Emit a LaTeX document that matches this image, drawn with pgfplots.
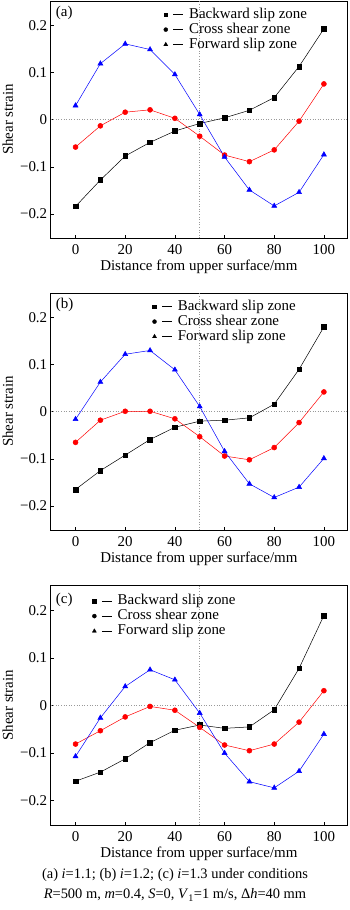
\documentclass[border=0pt]{standalone}
\usepackage{fontspec}
\setmainfont{Liberation Serif}
\usepackage{pgfplots}
\pgfplotsset{compat=1.18}
\pgfplotsset{
  panel/.style={
    scale only axis, width=296.3bp, height=237bp,
    xmin=-10, xmax=109.3, ymin=-0.251, ymax=0.252,
    xtick={0,20,40,60,80,100}, xticklabels={0,20,40,60,80,100},
    ytick={-0.2,-0.1,0,0.1,0.2}, yticklabels={−0.2,−0.1,0,0.1,0.2},
    tick pos=left, tick align=inside, major tick length=3bp,
    axis line style={line width=0.6bp},
    every tick/.style={black, line width=0.6bp},
    tick label style={font=\fontsize{15}{15}\selectfont},
    xticklabel style={yshift=-3.5bp},
    every axis x label/.style={at={([yshift=-29bp]axis description cs:0.5,0)}, anchor=center, font=\fontsize{15}{15}\selectfont},
    every axis y label/.style={at={([xshift=-43bp]axis description cs:0,0.5)}, rotate=90, anchor=center, font=\fontsize{15}{15}\selectfont},
    xlabel={Distance from upper surface/mm},
    ylabel={Shear strain},
    anchor=north west,
    legend style={draw=none, fill=none, inner sep=0pt, font=\fontsize{15}{15}\selectfont,
      nodes={inner sep=0pt, text height=11bp, text depth=4bp},
      /tikz/every odd column/.style={column sep=5.5bp}},
    legend cell align=left,
  },
  bk/.style={black, line width=0.5bp, mark=square*, mark size=2.3bp, mark options={solid}},
  cr/.style={red, line width=0.5bp, mark=*, mark size=2.5bp},
  fw/.style={blue, line width=0.5bp, mark=triangle*, mark size=2.9bp},
  lgsq/.style={black, mark=square*, mark size=1.9bp, legend image code/.code={\pgfuseplotmark{square*}\draw[black,line width=0.7bp] (7.5bp,0bp)--(17.5bp,0bp);}},
  lgci/.style={black, mark=*, mark size=2bp, legend image code/.code={\pgfuseplotmark{*}\draw[black,line width=0.7bp] (7.5bp,0bp)--(17.5bp,0bp);}},
  lgtr/.style={black, mark=triangle*, mark size=2.3bp, legend image code/.code={\pgfuseplotmark{triangle*}\draw[black,line width=0.7bp] (7.5bp,0bp)--(17.5bp,0bp);}},
  guide/.style={gray!80, dotted, line width=0.6bp, forget plot},
}
\begin{document}
\begin{tikzpicture}
\useasboundingbox (0bp,0bp) rectangle (350bp,910bp);
% ---------- (a)
\begin{axis}[panel, at={(50.7bp,909bp)},
  legend style={at={(0.381,0.975)}, anchor=north west}]
\addplot[guide] coordinates {(50,-0.251) (50,0.252)};
\addplot[guide] coordinates {(-10,0) (109.3,0)};
\addplot[bk, forget plot] coordinates {(0,-0.184) (10,-0.128) (20,-0.077) (30,-0.048) (40,-0.024) (50,-0.008) (60,0.004) (70,0.020) (80,0.047) (90,0.113) (100,0.193)};
\addplot[cr, forget plot] coordinates {(0,-0.058) (10,-0.013) (20,0.016) (30,0.021) (40,0.003) (50,-0.035) (60,-0.075) (70,-0.089) (80,-0.064) (90,-0.003) (100,0.076)};
\addplot[fw, forget plot] coordinates {(0,0.030) (10,0.119) (20,0.161) (30,0.149) (40,0.096) (50,0.011) (60,-0.079) (70,-0.149) (80,-0.183) (90,-0.154) (100,-0.074)};
\addlegendimage{lgsq}\addlegendentry{Backward slip zone}
\addlegendimage{lgci}\addlegendentry{Cross shear zone}
\addlegendimage{lgtr}\addlegendentry{Forward slip zone}
\node[anchor=west, inner sep=0pt, font=\fontsize{15}{15}\selectfont] at ([xshift=5bp,yshift=-12bp]rel axis cs:0,1) {(a)};
\end{axis}
% ---------- (b)
\begin{axis}[panel, at={(50.7bp,617bp)},
  legend style={at={(0.343,0.975)}, anchor=north west}]
\addplot[guide] coordinates {(50,-0.251) (50,0.252)};
\addplot[guide] coordinates {(-10,0) (109.3,0)};
\addplot[bk, forget plot] coordinates {(0,-0.165) (10,-0.125) (20,-0.092) (30,-0.059) (40,-0.033) (50,-0.020) (60,-0.018) (70,-0.013) (80,0.016) (90,0.090) (100,0.180)};
\addplot[cr, forget plot] coordinates {(0,-0.065) (10,-0.018) (20,0.001) (30,0.001) (40,-0.015) (50,-0.053) (60,-0.094) (70,-0.102) (80,-0.076) (90,-0.023) (100,0.042)};
\addplot[fw, forget plot] coordinates {(0,-0.016) (10,0.063) (20,0.122) (30,0.130) (40,0.089) (50,0.011) (60,-0.084) (70,-0.153) (80,-0.182) (90,-0.160) (100,-0.099)};
\addlegendimage{lgsq}\addlegendentry{Backward slip zone}
\addlegendimage{lgci}\addlegendentry{Cross shear zone}
\addlegendimage{lgtr}\addlegendentry{Forward slip zone}
\node[anchor=west, inner sep=0pt, font=\fontsize{15}{15}\selectfont] at ([xshift=5bp,yshift=-12bp]rel axis cs:0,1) {(b)};
\end{axis}
% ---------- (c)
\begin{axis}[panel, at={(50.7bp,324.5bp)}, height=239.5bp,
  legend style={at={(0.140,0.967)}, anchor=north west}]
\addplot[guide] coordinates {(50,-0.251) (50,0.252)};
\addplot[guide] coordinates {(-10,0) (109.3,0)};
\addplot[bk, forget plot] coordinates {(0,-0.159) (10,-0.140) (20,-0.112) (30,-0.078) (40,-0.052) (50,-0.041) (60,-0.048) (70,-0.045) (80,-0.009) (90,0.078) (100,0.189)};
\addplot[cr, forget plot] coordinates {(0,-0.081) (10,-0.053) (20,-0.024) (30,-0.002) (40,-0.010) (50,-0.046) (60,-0.083) (70,-0.095) (80,-0.081) (90,-0.035) (100,0.031)};
\addplot[fw, forget plot] coordinates {(0,-0.107) (10,-0.026) (20,0.040) (30,0.075) (40,0.054) (50,-0.016) (60,-0.100) (70,-0.160) (80,-0.173) (90,-0.138) (100,-0.060)};
\addlegendimage{lgsq}\addlegendentry{Backward slip zone}
\addlegendimage{lgci}\addlegendentry{Cross shear zone}
\addlegendimage{lgtr}\addlegendentry{Forward slip zone}
\node[anchor=west, inner sep=0pt, font=\fontsize{15}{15}\selectfont] at ([xshift=5bp,yshift=-14bp]rel axis cs:0,1) {(c)};
\end{axis}
% ---------- caption
\node[font=\fontsize{14.5}{14.5}\selectfont, inner sep=0pt] at (175bp,35bp) {(a) \textit{i}=1.1; (b) \textit{i}=1.2; (c) \textit{i}=1.3 under conditions};
\node[font=\fontsize{14.5}{14.5}\selectfont, inner sep=0pt] at (175bp,15bp) {\textit{R}=500 m, \textit{m}=0.4, \textit{S}=0, \textit{V}\textsubscript{1}=1 m/s, Δ\textit{h}=40 mm};
\end{tikzpicture}
\end{document}
